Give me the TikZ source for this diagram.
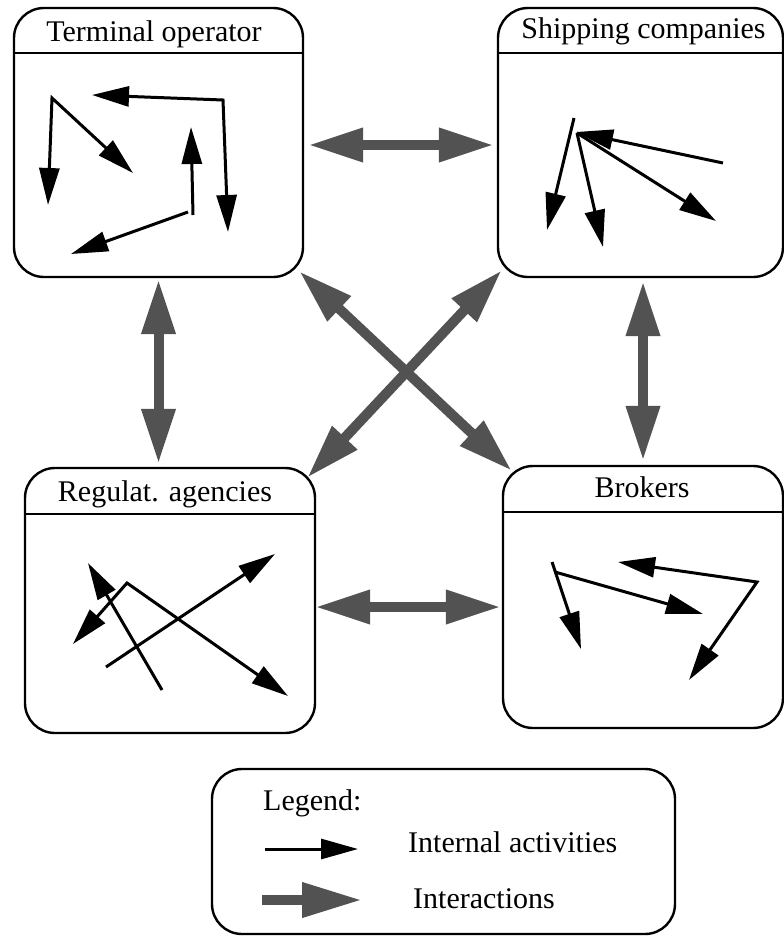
\documentclass[tikz,border=0pt]{standalone}
\usepackage{fontspec}
\newfontfamily\timesfam{LiberationSerif}[Extension=.ttf,UprightFont=*-Regular]
\usetikzlibrary{arrows.meta,calc}
\definecolor{intergray}{RGB}{82,82,82}
\begin{document}
\begin{tikzpicture}[x=1pt,y=-1pt,
  box/.style={draw,line width=2.4pt,rounded corners=30pt,inner sep=0pt},
  hdr/.style={anchor=base,inner sep=0pt,font=\timesfam\fontsize{30}{36}\selectfont},
  lgtext/.style={anchor=base west,inner sep=0pt,font=\timesfam\fontsize{30}{36}\selectfont},
  ia/.style={line width=3pt,-{Triangle[length=37pt,width=20pt]}},
  iab/.style={line width=3pt,{Triangle[length=37pt,width=20pt]}-{Triangle[length=37pt,width=20pt]}},
  inter/.style={draw=intergray,line width=10pt,{Triangle[length=55pt,width=32pt]}-{Triangle[length=55pt,width=32pt]}},
  interone/.style={draw=intergray,line width=10pt,-{Triangle[length=60pt,width=33pt]}}
]
\useasboundingbox (0,0) rectangle (784,937);
\fill[white] (0,0) rectangle (784,937);

% boxes
\node[box,minimum width=289pt,minimum height=269pt] (TO) at (158.5,142.5) {};
\node[box,minimum width=285pt,minimum height=269pt] (SC) at (640.5,142.5) {};
\node[box,minimum width=290pt,minimum height=265pt] (RA) at (170,600.5) {};
\node[box,minimum width=280pt,minimum height=262pt] (BR) at (643,597) {};
\node[box,minimum width=463pt,minimum height=165pt] (LG) at (443.5,851.5) {};

% header lines
\draw[line width=2.4pt] (TO.west |- 0,53) -- (TO.east |- 0,53);
\draw[line width=2.4pt] (SC.west |- 0,53) -- (SC.east |- 0,53);
\draw[line width=2.4pt] (RA.west |- 0,514) -- (RA.east |- 0,514);
\draw[line width=2.4pt] (BR.west |- 0,512) -- (BR.east |- 0,512);

% header texts
\node[hdr] (TOt) at (154,41) {Terminal operator};
\node[hdr] (SCt) at (643.5,38) {Shipping companies};
\node[hdr] (RAt) at (165,501) {Regulat. agencies};
\node[hdr] (BRt) at (642,497) {Brokers};

% internal activities: Terminal operator
\draw[iab] (48,205) -- (52,98) -- (133,173);
\draw[iab] (92,95) -- (223,100) -- (228,232);
\draw[ia] (193,215) -- (191,127);
\draw[ia] (188,212) -- (71,254);

% internal activities: Shipping companies
\draw[ia] (574,118) -- (547,230);
\draw[ia] (577,133) -- (603,247);
\draw[ia] (577,133) -- (716,221);
\draw[ia] (723,163) -- (576,132);

% internal activities: Regulat. agencies
\draw[ia] (162,690) -- (88,563);
\draw[ia] (106,667) -- (275,554);
\draw[iab] (73,644) -- (127,583) -- (288,696);

% internal activities: Brokers
\draw[ia] (552,562) -- (581,649);
\draw[ia] (555,572) -- (703,614);
\draw[iab] (618,562) -- (757,582) -- (689,680);

% interactions
\draw[inter] ($(TO.east)+(4,2.5)$) -- ($(SC.west)+(-3,2.5)$);
\draw[inter] ($(RA.east)+(-1,6.5)$) -- ($(BR.west)+(-1,10)$);
\draw[inter] ($(TO.south)+(0,1)$) -- ($(TO.south |- RA.north)+(0,-3)$);
\draw[inter] ($(BR.north |- SC.south)+(0,3)$) -- ($(BR.north)+(0,-4)$);
\draw[inter] ($(TO.south east)+(-5,-7)$) -- ($(BR.north west)+(10,6)$);
\draw[inter] ($(SC.south west)+(5,-8)$) -- ($(RA.north east)+(-9,11)$);

% legend
\node[lgtext] (lg1) at (263,810) {Legend:};
\node[lgtext] (lg2) at (408,852) {Internal activities};
\node[lgtext] (lg3) at (413,908) {Interactions};
\coordinate (la1) at (265,849);
\coordinate (la2) at (358,849);
\coordinate (lb1) at (262,900);
\coordinate (lb2) at (362,900);
\draw[ia] (la1) -- (la2);
\draw[interone] (lb1) -- (lb2);
\end{tikzpicture}
\end{document}
